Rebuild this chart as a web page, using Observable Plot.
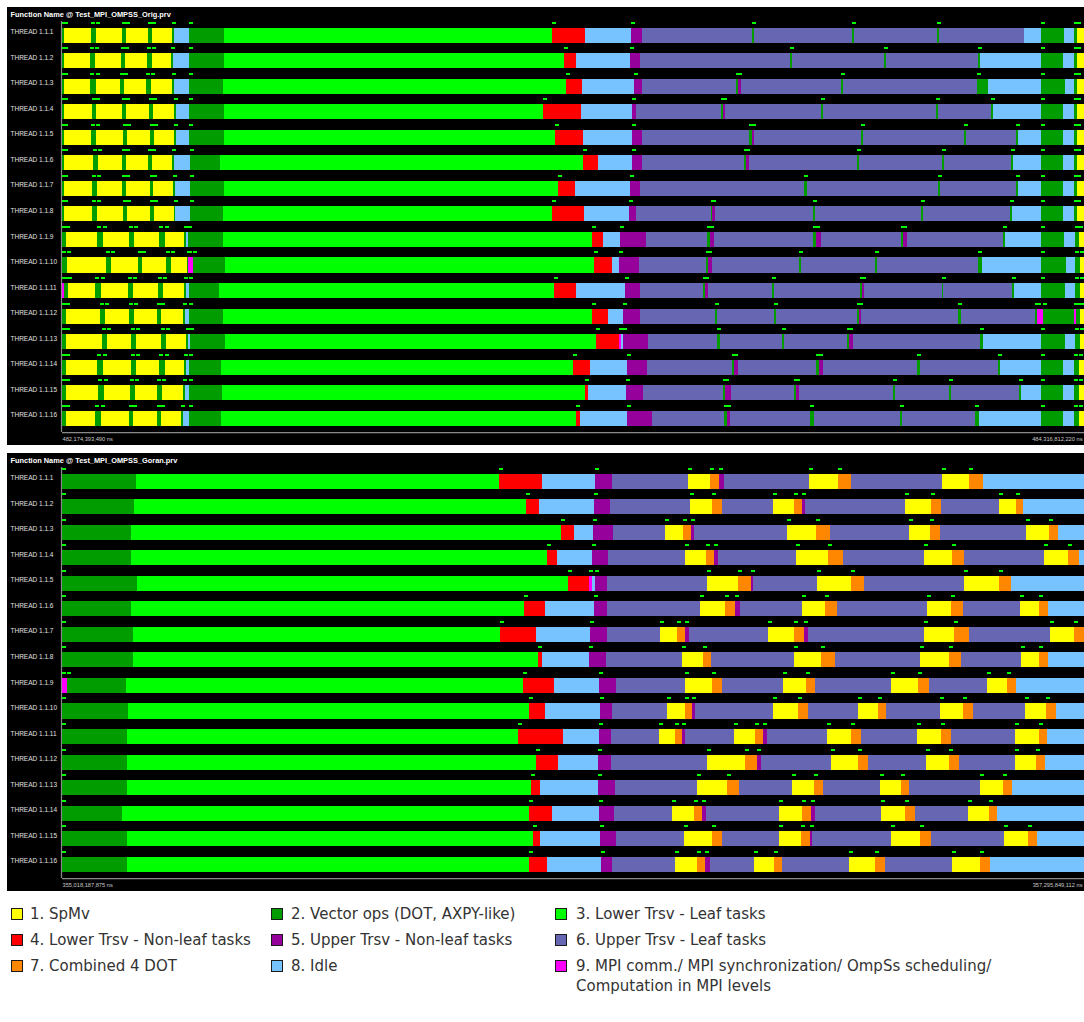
<!DOCTYPE html>
<html><head><meta charset="utf-8">
<script src="https://cdn.jsdelivr.net/npm/d3@7"></script>
<script src="https://cdn.jsdelivr.net/npm/@observablehq/plot@0.6"></script>
<style>
body{margin:0;background:#fff;width:1084px;height:1022px;position:relative;overflow:hidden;font-family:"DejaVu Sans",sans-serif;}
.panel{position:absolute;left:7px;width:1077px;height:438px;background:#000;overflow:hidden;}
#p1{top:7px}#p2{top:453px}
.item{position:absolute;font-size:15px;color:#333;line-height:20px;white-space:nowrap;}
.sw{position:absolute;width:10px;height:10px;border:1px solid #1a1a1a;}
</style></head><body>
<div class="panel" id="p1"></div>
<div class="panel" id="p2"></div>
<div id="legend"></div>
<script>
// ---- data ----
const stateIds = [1,2,3,4,5,6,7,8,9];
const stateNames = ["1. SpMv","2. Vector ops (DOT, AXPY-like)","3. Lower Trsv - Leaf tasks","4. Lower Trsv - Non-leaf tasks","5. Upper Trsv - Non-leaf tasks","6. Upper Trsv - Leaf tasks","7. Combined 4 DOT","8. Idle","9. MPI comm./ MPI synchronization/ OmpSs scheduling/\nComputation in MPI levels"];
const stateColors = ["#ffff00","#009c00","#00ff00","#ff0000","#96009b","#6666b3","#ff8700","#77c3ff","#ff00ff"];
const threads = d3.range(1,17).map(i => "THREAD 1.1." + i);
const titles = ["Function Name @ Test_MPI_OMPSS_Orig.prv","Function Name @ Test_MPI_OMPSS_Goran.prv"];
const origTimeLabels = ["482,174,393,490 ns","484,316,812,220 ns"];
const goranTimeLabels = ["355,018,187,875 ns","357,295,849,112 ns"];
const timeDomain = [62, 1089]; // relative time units spanning each window
// rows: pairs of [state, end time], each segment starting where the previous ended
const origRows = [
[2,64,1,91,2,96,1,122,2,126,1,148,2,152,1,172,2,174,8,189,2,224,3,552,4,585,8,631,5,642,6,752,2,754,6,852,2,854,6,937,2,939,6,1024,8,1041,2,1064,8,1074,2,1077,1,1089],
[2,64,1,90,2,95,1,121,2,125,1,147,2,152,1,171,2,173,8,189,2,224,3,564,4,576,8,630,5,640,6,790,2,792,6,884,2,886,6,978,2,980,8,1041,2,1063,8,1074,2,1077,1,1089],
[2,64,1,90,2,96,1,120,2,124,1,146,2,151,1,172,2,174,8,189,2,223,3,566,4,582,8,634,5,642,6,736,2,738,5,741,6,841,2,843,6,977,2,988,8,1041,2,1065,8,1074,2,1077,1,1089],
[2,64,1,92,2,96,1,122,2,126,1,149,2,153,1,174,2,176,8,189,2,224,3,543,4,581,8,632,5,636,6,721,2,723,5,725,6,821,2,823,6,936,2,938,6,991,2,993,8,1041,2,1063,8,1074,2,1077,1,1089],
[2,64,1,91,2,96,1,123,2,127,1,150,2,154,1,174,2,176,8,189,2,224,3,555,4,583,8,632,5,642,6,749,2,752,5,754,6,861,2,863,6,964,2,966,6,1016,2,1018,8,1041,2,1063,8,1074,2,1077,1,1089],
[2,64,1,93,2,98,1,122,2,126,1,148,2,152,1,172,2,174,8,190,2,220,3,583,4,598,8,632,5,642,6,744,2,746,5,749,6,857,2,859,6,942,2,944,6,1011,2,1013,8,1041,2,1063,8,1074,2,1077,1,1089],
[2,64,1,92,2,97,1,122,2,126,1,150,2,153,1,173,2,175,8,190,2,224,3,558,4,575,8,630,5,640,6,804,2,807,6,938,2,940,6,1016,2,1018,8,1041,2,1063,8,1074,2,1077,1,1089],
[2,64,1,92,2,97,1,123,2,127,1,150,2,154,1,174,2,175,8,190,2,223,3,552,4,584,8,629,5,636,6,711,2,712,5,715,6,813,2,815,6,921,2,923,6,1010,2,1012,8,1041,2,1063,8,1074,2,1077,1,1089],
[2,66,1,97,2,103,1,129,2,134,1,159,2,165,1,184,2,186,8,188,2,223,3,592,4,603,8,620,5,646,6,707,2,710,5,714,6,813,2,816,5,821,6,901,2,903,5,907,6,1003,2,1005,8,1041,2,1064,8,1075,2,1079,1,1089],
[2,67,1,106,2,111,1,138,2,142,1,166,2,171,1,187,2,188,9,193,2,225,3,594,4,612,8,619,5,639,6,706,2,708,5,712,6,799,2,801,6,875,2,877,6,978,2,982,8,1041,2,1066,8,1075,2,1080,1,1089],
[9,64,2,68,1,95,2,101,1,128,2,133,1,158,2,163,1,184,2,186,8,189,2,219,3,554,4,576,8,625,5,640,6,703,2,705,5,708,6,772,2,774,6,860,2,862,5,864,6,942,2,943,6,1012,2,1014,8,1041,2,1065,8,1075,2,1080,1,1089],
[2,66,1,100,2,105,1,129,2,134,1,157,2,161,1,183,2,185,8,189,2,223,3,592,4,608,8,623,5,640,6,715,2,717,6,774,2,776,6,857,2,859,5,861,6,958,2,961,6,1035,2,1037,9,1043,2,1074,9,1076,2,1080,1,1089],
[2,66,1,102,2,107,1,131,2,136,1,161,2,166,1,186,2,188,8,190,2,225,3,596,4,619,9,621,8,623,5,648,6,717,2,720,6,782,2,784,6,847,2,849,5,853,6,980,2,983,8,1041,2,1065,8,1075,2,1080,1,1089],
[2,66,1,97,2,103,1,131,2,136,1,159,2,165,1,184,2,186,8,189,2,221,3,573,4,590,8,627,5,647,6,732,2,734,5,738,6,816,2,819,5,823,6,917,2,920,6,998,2,1000,8,1041,2,1063,8,1074,2,1079,1,1089],
[2,66,1,98,2,104,1,130,2,135,1,157,2,162,1,183,2,185,8,189,2,222,3,585,4,588,8,626,5,643,6,723,2,725,5,731,6,794,2,796,5,799,6,893,2,895,6,949,2,951,6,1019,2,1021,8,1041,2,1063,8,1074,2,1079,1,1089],
[2,66,1,95,2,101,1,129,2,133,1,157,2,161,1,181,2,183,8,189,2,221,3,576,4,580,8,627,5,652,6,724,2,727,5,730,6,810,2,814,6,900,2,902,6,975,2,979,8,1041,2,1063,8,1074,2,1079,1,1089]
];
const goranRows = [
[2,136,3,499,4,542,8,595,5,612,6,688,1,710,7,719,5,724,6,809,1,838,7,851,6,942,1,969,7,983,8,1089],
[2,134,3,526,4,539,8,594,5,610,6,690,1,712,7,722,6,773,1,794,7,802,5,805,6,905,1,931,7,941,6,999,1,1016,7,1023,8,1089],
[2,131,3,561,4,574,8,593,5,613,6,665,1,683,7,691,5,694,6,787,1,816,7,830,6,909,1,930,7,940,6,1026,1,1049,7,1058,8,1089],
[2,131,3,547,4,557,8,592,5,608,6,685,1,706,7,714,5,718,6,796,1,828,7,843,6,924,1,952,7,964,6,1044,1,1068,7,1079,8,1089],
[2,137,3,568,4,589,9,592,8,595,5,607,6,707,1,738,7,751,5,753,6,817,1,851,7,864,6,964,1,999,7,1011,8,1089],
[2,131,3,524,4,545,8,594,5,607,6,700,1,725,7,735,5,740,6,802,1,825,7,837,6,927,1,951,7,963,6,1020,1,1039,7,1048,8,1089],
[2,133,3,500,4,536,8,590,5,607,6,660,1,677,7,685,5,689,6,768,1,794,7,804,5,808,6,924,1,954,7,969,6,1050,1,1074,7,1089],
[2,133,3,538,4,542,8,589,5,606,6,682,1,703,7,711,6,794,1,821,7,835,6,920,1,949,7,961,6,1021,1,1039,7,1048,8,1089],
[9,67,2,126,3,523,4,554,8,599,5,616,6,685,1,712,7,722,6,783,1,806,7,815,6,891,1,918,7,929,6,987,1,1007,7,1016,8,1089],
[2,128,3,529,4,545,8,600,5,612,6,667,1,685,7,692,5,695,6,773,1,798,7,808,6,858,1,878,7,886,6,940,1,963,7,973,6,1025,1,1046,7,1056,8,1089],
[2,127,3,518,4,563,8,599,5,611,6,659,1,675,7,682,5,685,6,734,1,755,7,763,5,767,6,827,1,851,7,861,6,917,1,941,7,951,6,1015,1,1039,7,1047,8,1089],
[2,127,3,536,4,558,8,598,5,611,6,707,1,745,7,757,5,761,6,831,1,858,7,868,6,926,1,949,7,959,6,1015,1,1036,7,1045,8,1089],
[2,127,3,531,4,540,8,598,5,615,6,697,1,727,7,739,6,792,1,814,7,823,6,880,1,901,7,909,6,980,1,1003,7,1012,8,1089],
[2,122,3,529,4,552,8,599,5,614,6,672,1,694,7,702,5,706,6,779,1,802,7,811,5,815,6,881,1,905,7,915,6,968,1,989,7,997,8,1089],
[2,127,3,533,4,540,8,600,5,616,6,684,1,712,7,722,6,779,1,801,7,810,5,812,6,891,1,920,7,931,6,1004,1,1028,7,1037,8,1089],
[2,127,3,529,4,547,8,601,5,612,6,675,1,697,7,705,5,710,6,754,1,774,7,782,6,849,1,875,7,885,6,952,1,980,7,990,8,1089]
];
const flagStates = [1,2,4,5,7,9];

// ---- drawing ----
function segmentsOf(rows) {
  const out = [];
  rows.forEach((r, i) => {
    let start = timeDomain[0];
    for (let k = 0; k < r.length; k += 2) {
      out.push({thread: threads[i], state: r[k], x1: start, x2: r[k + 1]});
      start = r[k + 1];
    }
  });
  return out;
}
function panel(title, rows, labels) {
  const segs = segmentsOf(rows);
  const flags = segs.filter(d => flagStates.includes(d.state));
  const font = "Liberation Sans, Arial, sans-serif";
  return Plot.plot({
    width: 1077, height: 438,
    marginLeft: 55, marginRight: 0, marginTop: 0, marginBottom: 0,
    style: {background: "#000", overflow: "hidden"},
    x: {domain: timeDomain, range: [55, 1082], axis: null},
    y: {domain: threads, range: [20.7, 418.7], paddingInner: 0.41, paddingOuter: 0, round: false, axis: null},
    color: {domain: stateIds, range: stateColors},
    marks: [
      Plot.ruleX([timeDomain[0]], {stroke: "#8a8a8a", strokeWidth: 1.2, insetTop: 14, insetBottom: 13, dx: -1}),
      Plot.ruleY([threads[15]], {stroke: "#8a8a8a", strokeWidth: 1.2, dy: 14}),
      Plot.barX(segs, {x1: "x1", x2: "x2", y: "thread", fill: "state", inset: 0, shapeRendering: "crispEdges"}),
      Plot.ruleX(flags, {x: "x1", y: "thread", stroke: "#00b000", strokeWidth: 1, insetBottom: 9.06, dy: -6, dx: 0.5}),
      Plot.barX(flags, {x1: "x1", x2: d => d.x1 + 3.5, y: "thread", fill: "#00ff00", insetBottom: 13.06, dy: -6, shapeRendering: "crispEdges"}),
      Plot.text(threads, {y: d => d, frameAnchor: "left", dx: -52, dy: -3.5, textAnchor: "start", fill: "#e0e0e0", fontSize: 6.5, fontFamily: font}),
      Plot.text([title], {frameAnchor: "top-left", dx: -52, dy: 7.4, textAnchor: "start", lineAnchor: "middle", fill: "#fff", fontWeight: "bold", fontSize: 7.4, fontFamily: font}),
      Plot.text([labels[0]], {frameAnchor: "bottom-left", dy: -6, textAnchor: "start", lineAnchor: "middle", fill: "#c8c8c8", fontSize: 5.7, fontFamily: font}),
      Plot.text([labels[1]], {frameAnchor: "bottom-right", dx: -2, dy: -6, textAnchor: "end", lineAnchor: "middle", fill: "#c8c8c8", fontSize: 5.7, fontFamily: font})
    ]
  });
}
document.getElementById("p1").appendChild(panel(titles[0], origRows, origTimeLabels));
document.getElementById("p2").appendChild(panel(titles[1], goranRows, goranTimeLabels));

// ---- legend ----
const legendCols = [[11, 30], [271, 291], [555, 576]];
const legendRowsY = [914, 940, 966];
const legend = document.getElementById("legend");
stateIds.forEach((s, i) => {
  const col = i % 3, row = Math.floor(i / 3);
  const cy = legendRowsY[row];
  const sw = document.createElement("div");
  sw.className = "sw";
  sw.style.left = legendCols[col][0] + "px";
  sw.style.top = (cy - 6) + "px";
  sw.style.background = stateColors[i];
  legend.appendChild(sw);
  const t = document.createElement("div");
  t.className = "item";
  t.style.left = legendCols[col][1] + "px";
  t.style.top = (cy - 10) + "px";
  t.innerHTML = stateNames[i].replace("\n", "<br>");
  legend.appendChild(t);
});
</script>
</body></html>
